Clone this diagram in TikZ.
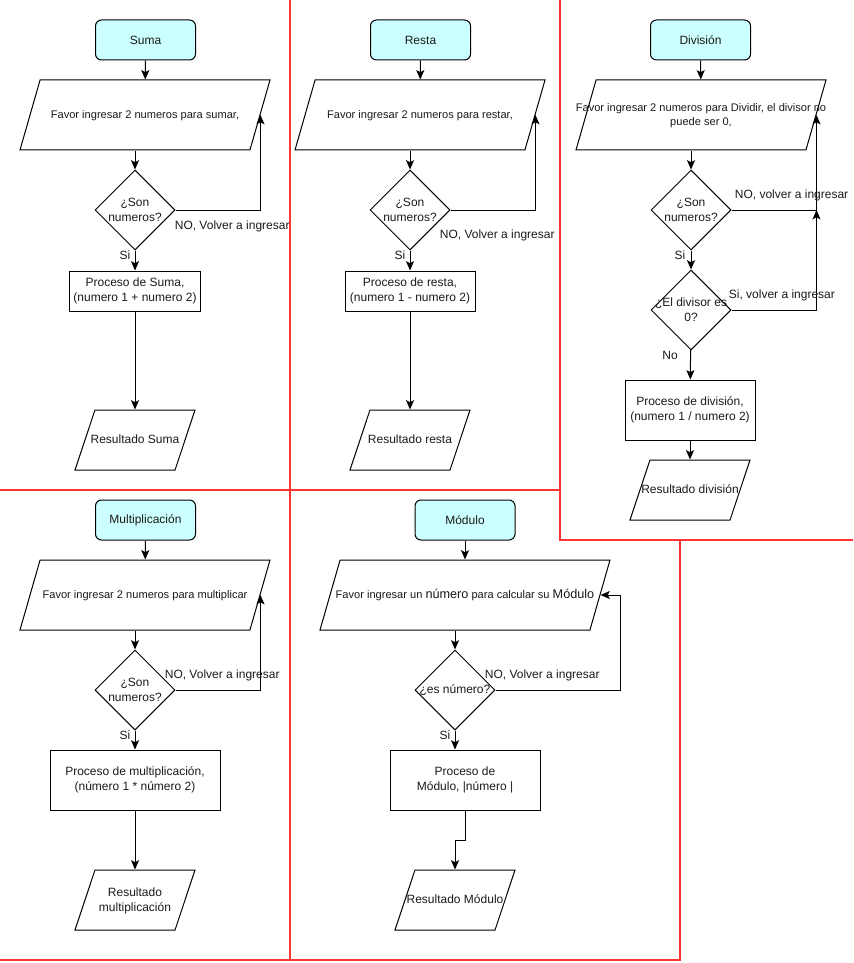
\documentclass[tikz,border=0pt]{standalone}
\usepackage{fontspec}
\setmainfont{Liberation Sans}
\usetikzlibrary{arrows.meta, shapes.geometric, calc}
\definecolor{cstart}{HTML}{CCFFFF}
\definecolor{cframe}{HTML}{FF3333}
\definecolor{ctext}{HTML}{1A1A1A}
\tikzset{
  every picture/.style={line width=0.75pt},
  start/.style={draw, fill=cstart, rounded corners=4.5pt, minimum width=75pt, minimum height=30pt, align=center},
  inbox/.style={draw, trapezium, trapezium left angle=74, trapezium right angle=106, trapezium stretches body, minimum width=#1, text height=26.25pt, text depth=26.25pt, inner sep=0pt, font=\fontsize{8.3}{10}\selectfont},
  inbox/.default=187.5pt,
  ask/.style={draw, diamond, minimum width=60pt, minimum height=60pt, inner sep=0pt},
  proc/.style={draw, minimum width=#1, minimum height=30pt, align=center},
  outbox/.style={draw, trapezium, trapezium left angle=71.6, trapezium right angle=108.4, trapezium stretches body, minimum width=90pt, text height=22.5pt, text depth=22.5pt, inner sep=0pt},
  flow/.style={-{Stealth[length=7pt, width=6pt, inset=1.5pt]}},
  frame/.style={draw=cframe, line width=1pt},
  note/.style={inner sep=1pt},
}
% text that may overflow its shape
\newcommand{\inq}[1]{\smash{\makebox[0pt]{\raisebox{-0.6ex}{\begin{tabular}{@{}c@{}}#1\end{tabular}}}}}

\begin{document}
\begin{tikzpicture}[x=0.75pt, y=-0.75pt,
    every node/.append style={font=\fontsize{9}{11}\selectfont, text=ctext},
  ]
  \useasboundingbox (0,0) rectangle (853,963);

  % frames
  \draw[frame] (290,0) -- (290,960);
  \draw[frame] (0,490) -- (560,490);
  \draw[frame] (560,0) -- (560,540) -- (853,540);
  \draw[frame] (0,960) -- (680,960) -- (680,540);

  % suma
  \node[start] (sStart) at (145.5,40) {Suma};
  \node[inbox] (sIn) at (145,115) {\inq{Favor ingresar 2 numeros para sumar,}};
  \node[ask] (sAsk) at (135,210) {\inq{¿Son\\numeros?}};
  \node[proc=97.5pt] (sProc) at (135,291) {Proceso de Suma,\\(numero 1 + numero 2)};
  \node[outbox] (sOut) at (135,440) {\inq{Resultado Suma}};
  \draw[flow] (sStart) -- (sIn);
  \draw[flow] (sAsk.north |- sIn.south) -- (sAsk.north);
  \draw[flow] (sAsk.east) -| (sIn.east);
  \draw[flow] (sAsk) -- (sProc);
  \draw[flow] (sProc) -- (sOut);
  \node[note, anchor=west] (sNo) at (173,226) {NO, Volver a ingresar};
  \node[note] (sSi) at (125,255) {Si};

  % resta
  \node[start] (rStart) at (420.5,40) {Resta};
  \node[inbox] (rIn) at (420,115) {\inq{Favor ingresar 2 numeros para restar,}};
  \node[ask] (rAsk) at (410,210) {\inq{¿Son\\numeros?}};
  \node[proc=97.5pt] (rProc) at (410,291) {Proceso de resta,\\(numero 1 - numero 2)};
  \node[outbox] (rOut) at (410,440) {\inq{Resultado resta}};
  \draw[flow] (rStart) -- (rIn);
  \draw[flow] (rAsk.north |- rIn.south) -- (rAsk.north);
  \draw[flow] (rAsk.east) -| (rIn.east);
  \draw[flow] (rAsk) -- (rProc);
  \draw[flow] (rProc) -- (rOut);
  \node[note, anchor=west] (rNo) at (438,235) {NO, Volver a ingresar};
  \node[note] (rSi) at (400,255) {Si};

  % division
  \node[start] (dStart) at (700.5,40) {División};
  \node[inbox] (dIn) at (701,115) {\inq{Favor ingresar 2 numeros para Dividir, el divisor no\\puede ser 0,}};
  \node[ask] (dAsk1) at (691,210) {\inq{¿Son\\numeros?}};
  \node[ask] (dAsk2) at (691,310) {\inq{¿El divisor es\\0?}};
  \node[proc=97.5pt, minimum height=45pt] (dProc) at (690,410) {Proceso de división,\\(numero 1 / numero 2)};
  \node[outbox] (dOut) at (690,490) {\inq{Resultado división}};
  \draw[flow] (dStart) -- (dIn);
  \draw[flow] (dAsk1.north |- dIn.south) -- (dAsk1.north);
  \draw[flow] (dAsk1.east) -| (dIn.east);
  \draw[flow] (dAsk1) -- (dAsk2);
  \draw[flow] (dAsk2.east) -| (dIn.east |- dAsk1.east);
  \draw[flow] (dAsk2) -- (dProc);
  \draw[flow] (dProc) -- (dOut);
  \node[note, anchor=west] (dNo) at (733,195) {NO, volver a ingresar};
  \node[note, anchor=west] (dZero) at (727,295) {Si, volver a ingresar};
  \node[note] (dSi) at (680,255) {Si};
  \node[note] (dNot) at (670,355) {No};

  % multiplicacion
  \node[start] (xStart) at (145.5,520) {Multiplicación};
  \node[inbox] (xIn) at (145,595) {\inq{Favor ingresar 2 numeros para multiplicar}};
  \node[ask] (xAsk) at (135,690) {\inq{¿Son\\numeros?}};
  \node[proc=127.5pt, minimum height=45pt] (xProc) at (135,780) {Proceso de multiplicación,\\(número 1 * número 2)};
  \node[outbox] (xOut) at (135,900) {\inq{Resultado\\multiplicación}};
  \draw[flow] (xStart) -- (xIn);
  \draw[flow] (xAsk.north |- xIn.south) -- (xAsk.north);
  \draw[flow] (xAsk.east) -| (xIn.east);
  \draw[flow] (xAsk) -- (xProc);
  \draw[flow] (xProc) -- (xOut);
  \node[note, anchor=west] (xNo) at (163,675) {NO, Volver a ingresar};
  \node[note] (xSi) at (125,735) {Si};

  % modulo
  \node[start] (mStart) at (465,520) {Módulo};
  \node[inbox=217.5pt] (mIn) at (465,595) {\inq{Favor ingresar un {\fontsize{9.5}{11}\selectfont número} para calcular su {\fontsize{9.5}{11}\selectfont Módulo}}};
  \node[ask] (mAsk) at (455,690) {\inq{¿es número?}};
  \node[proc=112.5pt, minimum height=45pt] (mProc) at (465,780) {Proceso de\\Módulo, |número |};
  \node[outbox] (mOut) at (455,900) {\inq{Resultado Módulo}};
  \coordinate (mBend) at (620,690);
  \draw[flow] (mStart) -- (mIn);
  \draw[flow] (mAsk.north |- mIn.south) -- (mAsk.north);
  \draw[flow] (mAsk.east) -- (mBend) |- (mIn.east);
  \draw[flow] (mAsk.south) -- (mAsk.south |- mProc.north);
  \draw[flow] (mProc.south) -- ++(0,30) -| (mOut.north);
  \node[note, anchor=west] (mNo) at (483,675) {NO, Volver a ingresar};
  \node[note] (mSi) at (445,735) {Si};
\end{tikzpicture}
\end{document}
